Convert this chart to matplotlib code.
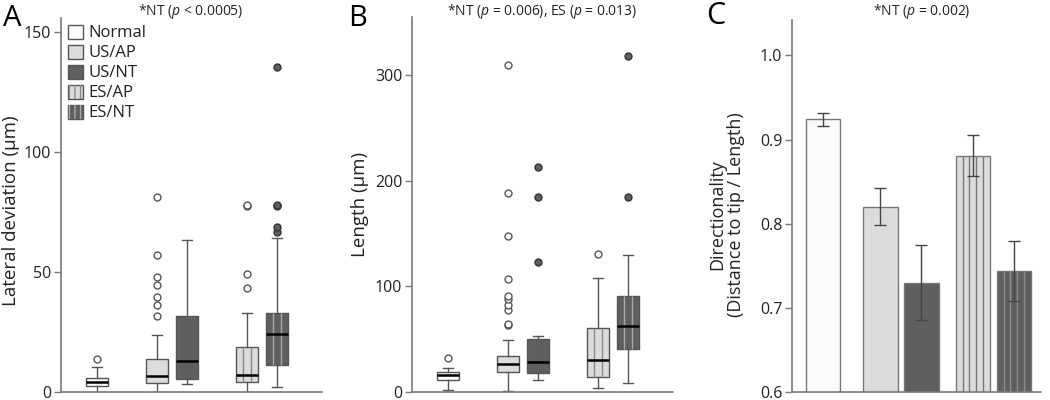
import numpy as np
import matplotlib
matplotlib.use("Agg")
import matplotlib.pyplot as plt
from matplotlib.patches import Patch
from matplotlib.legend_handler import HandlerTuple

plt.rcParams["font.family"] = ["Open Sans", "DejaVu Sans"]
plt.rcParams["mathtext.fontset"] = "custom"
plt.rcParams["mathtext.rm"] = "Open Sans"
plt.rcParams["mathtext.it"] = "Open Sans:italic"

groups = ["Normal", "US/AP", "US/NT", "ES/AP", "ES/NT"]

# A: lateral deviation (um), box stats
lat_lo = [0.0, 0.0, 3.5, 0.0, 2.1]
lat_q1 = [2.5, 3.9, 5.3, 4.3, 11.2]
lat_med = [4.2, 6.6, 13.0, 6.9, 24.0]
lat_q3 = [6.0, 13.6, 31.9, 18.7, 32.8]
lat_hi = [10.4, 23.8, 63.4, 33.1, 64.3]
lat_fliers = [[13.9],
              [31.6, 36.4, 39.5, 44.7, 47.8, 57.3, 81.5],
              [],
              [43.4, 49.3, 77.6, 78.2],
              [66.9, 68.7, 77.5, 77.9, 135.5]]

# B: length (um)
len_lo = [2.2, 1.0, 11.0, 4.1, 8.2]
len_q1 = [11.0, 18.7, 18.4, 14.6, 41.1]
len_med = [16.5, 26.3, 28.2, 30.4, 62.3]
len_q3 = [18.7, 34.2, 50.3, 61.0, 91.1]
len_hi = [22.8, 49.4, 53.2, 108.2, 129.7]
len_fliers = [[32.3],
              [63.3, 64.6, 77.5, 82.3, 88.0, 90.8, 107.3, 148.0, 188.6, 310.0],
              [122.8, 184.3, 213.3],
              [130.7],
              [184.3, 318.0]]

# C: directionality mean +/- error
dir_mean = [0.924, 0.820, 0.730, 0.881, 0.744]
dir_err = [0.008, 0.022, 0.045, 0.024, 0.036]

fills = ["#fbfbfb", "#dcdcdc", "#5f5f5f", "#dcdcdc", "#5f5f5f"]
striped = [False, False, False, True, True]
stripe_cols = [None, None, None, "#8a8a8a", "#a8a8a8"]
edge = "#555555"
spine_col = "#7a7a7a"
text_col = "#222222"

box_pos = [0, 2, 3, 5, 6]
bar_pos = [0, 1.4, 2.4, 3.66, 4.66]

fig = plt.figure(figsize=(10.5, 4), dpi=100)
axA = fig.add_axes([61/1050, 8/400, 261/1050, 374/400])
axB = fig.add_axes([412/1050, 8/400, 261/1050, 375/400])
axC = fig.add_axes([792/1050, 8/400, 249/1050, 372/400])


def style_axis(ax):
    for s in ["top", "right"]:
        ax.spines[s].set_visible(False)
    for s in ["left", "bottom"]:
        ax.spines[s].set_color(spine_col)
        ax.spines[s].set_linewidth(1.2)
    ax.set_xticks([])
    ax.tick_params(axis="y", direction="out", length=5, width=1,
                   color=spine_col, labelsize=11.5, labelcolor=text_col, pad=2)


def draw_boxes(ax, lo, q1, med, q3, hi, fliers):
    stats = []
    for i in range(len(groups)):
        stats.append({"whislo": lo[i], "q1": q1[i], "med": med[i], "q3": q3[i],
                      "whishi": hi[i], "fliers": fliers[i]})
    width = 0.73
    res = ax.bxp(stats, positions=box_pos, widths=width, patch_artist=True,
                 capwidths=0.35,
                 boxprops=dict(edgecolor=edge, linewidth=1),
                 whiskerprops=dict(color=edge, linewidth=1),
                 capprops=dict(color=edge, linewidth=1),
                 medianprops=dict(color="black", linewidth=1.8),
                 flierprops=dict(marker="o", markersize=5, markeredgewidth=1,
                                 markeredgecolor="#555555", markerfacecolor="white"))
    for i, b in enumerate(res["boxes"]):
        b.set_facecolor(fills[i])
        if striped[i]:
            xs = box_pos[i] - width/2 + width*np.arange(1, 3)/3
            ax.vlines(xs, q1[i], q3[i], color=stripe_cols[i], lw=1, zorder=2.05)
        if fills[i] == "#5f5f5f":
            res["fliers"][i].set_markerfacecolor("#5f5f5f")
            res["fliers"][i].set_markeredgecolor("#333333")
    ax.set_xlim(-1.2, 7.5)


title_y = 1 - 2/400

# Panel A
draw_boxes(axA, lat_lo, lat_q1, lat_med, lat_q3, lat_hi, lat_fliers)
style_axis(axA)
axA.set_ylim(0, 156)
axA.set_yticks([0, 50, 100, 150])
axA.set_ylabel("Lateral deviation (µm)", fontsize=13.5, color=text_col, va="center")
axA.yaxis.set_label_coords(-0.19, 0.485)
fig.text(191/1050, title_y, r"*NT ($p$ < 0.0005)", ha="center", va="top",
         fontsize=10, color=text_col)

handles = []
for i in range(len(groups)):
    base = Patch(facecolor=fills[i], edgecolor=edge, linewidth=1)
    if striped[i]:
        over = Patch(facecolor="none", edgecolor=stripe_cols[i], hatch="|||", linewidth=0)
        handles.append((base, over))
    else:
        handles.append(base)
axA.legend(handles, groups, handler_map={tuple: HandlerTuple(ndivide=1)},
           loc="upper left", bbox_to_anchor=(0.0, 1.0), frameon=False,
           fontsize=12, handlelength=0.9, handleheight=0.9, handletextpad=0.35,
           labelspacing=0.2, borderaxespad=0.0, labelcolor=text_col)
fig.text(12/1050, 1 - 18/400, "A", fontsize=21, ha="center", va="center", color="black")

# Panel B
draw_boxes(axB, len_lo, len_q1, len_med, len_q3, len_hi, len_fliers)
style_axis(axB)
axB.set_ylim(0, 355)
axB.set_yticks([0, 100, 200, 300])
axB.set_ylabel("Length (µm)", fontsize=13.5, color=text_col, va="center")
axB.yaxis.set_label_coords(-0.2, 0.5)
fig.text(542/1050, title_y, r"*NT ($p$ = 0.006), ES ($p$ = 0.013)", ha="center",
         va="top", fontsize=10, color=text_col)
fig.text(358/1050, 1 - 18/400, "B", fontsize=21, ha="center", va="center", color="black")

# Panel C
width = 0.85
axC.bar(bar_pos, dir_mean, width=width, color=fills, edgecolor="#777777",
        linewidth=1, zorder=2)
for i in range(len(groups)):
    if striped[i]:
        xs = bar_pos[i] - width/2 + width*np.arange(1, 5)/5
        axC.vlines(xs, 0.6, dir_mean[i], color="#777777" if i == 3 else "#8c8c8c",
                   lw=1, zorder=2.1)
axC.errorbar(bar_pos, dir_mean, yerr=dir_err, fmt="none", ecolor="#444444",
             elinewidth=1, capsize=4.5, capthick=1, zorder=3)
style_axis(axC)
axC.set_xlim(-0.756, 5.32)
axC.set_ylim(0.6, 1.042)
axC.set_yticks([0.6, 0.7, 0.8, 0.9, 1.0])
axC.set_yticklabels(["0.6", "0.7", "0.8", "0.9", "1.0"])
axC.set_ylabel("Directionality\n(Distance to tip / Length)", fontsize=13,
               color=text_col, va="center", linespacing=1.05)
axC.yaxis.set_label_coords(-0.262, 0.476)
fig.text(922/1050, title_y, r"*NT ($p$ = 0.002)", ha="center", va="top",
         fontsize=10, color=text_col)
fig.text(716/1050, 1 - 16/400, "C", fontsize=22, ha="center", va="center", color="black")

fig.savefig("out.png", dpi=100)
